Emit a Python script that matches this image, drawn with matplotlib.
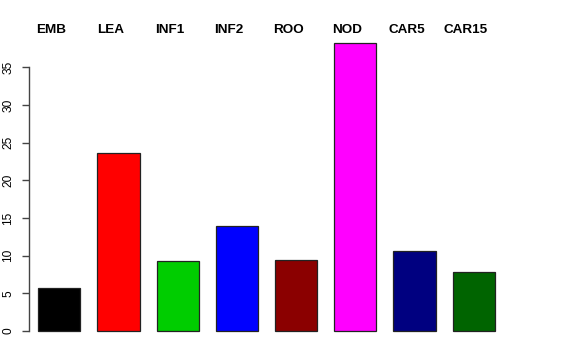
import matplotlib
matplotlib.use('Agg')
import matplotlib.pyplot as plt
import matplotlib.transforms as mtransforms

# data
labels = ['EMB', 'LEA', 'INF1', 'INF2', 'ROO', 'NOD', 'CAR5', 'CAR15']
values = [5.75, 23.6, 9.33, 13.9, 9.4, 38.2, 10.6, 7.8]
colors = ['#000000', '#FF0000', '#00CD00', '#0000FF', '#8B0000', '#FF00FF', '#000080', '#006400']

plt.rcParams['font.family'] = ['Liberation Sans', 'DejaVu Sans']

fig = plt.figure(figsize=(5.76, 3.6), dpi=100)
ax = fig.add_axes([29.3 / 576, 17.5 / 360, (503.7 - 29.3) / 576, (328.2 - 17.5) / 360])

x = list(range(len(labels)))
ax.bar(x, values, width=0.71, color=colors, edgecolor='#222222', linewidth=0.9)

ax.set_xlim(-0.507, 7.507)
ax.set_ylim(-1.53, 39.73)

for s in ['top', 'right', 'bottom']:
  ax.spines[s].set_visible(False)
ax.spines['left'].set_bounds(0, 35)
ax.spines['left'].set_color('#444444')
ax.spines['left'].set_linewidth(1.0)

ax.set_xticks([])
ax.set_yticks(range(0, 40, 5))
# lengths in points (1 px = 0.72 pt at 100 dpi)
ax.tick_params(axis='y', length=5.2, width=1.0, color='#444444', pad=5.5, labelsize=8.6)
for t in ax.get_yticklabels():
  t.set_rotation(90)
  t.set_va('center')

# category names above the bars
trans = mtransforms.blended_transform_factory(ax.transData, fig.transFigure)
for xi, lab in zip(x, labels):
  ax.text(xi - 0.13, 330 / 360, lab, transform=trans, ha='center', va='center',
          fontsize=9.7, fontweight='bold', clip_on=False)

fig.savefig('out.png', dpi=100)
